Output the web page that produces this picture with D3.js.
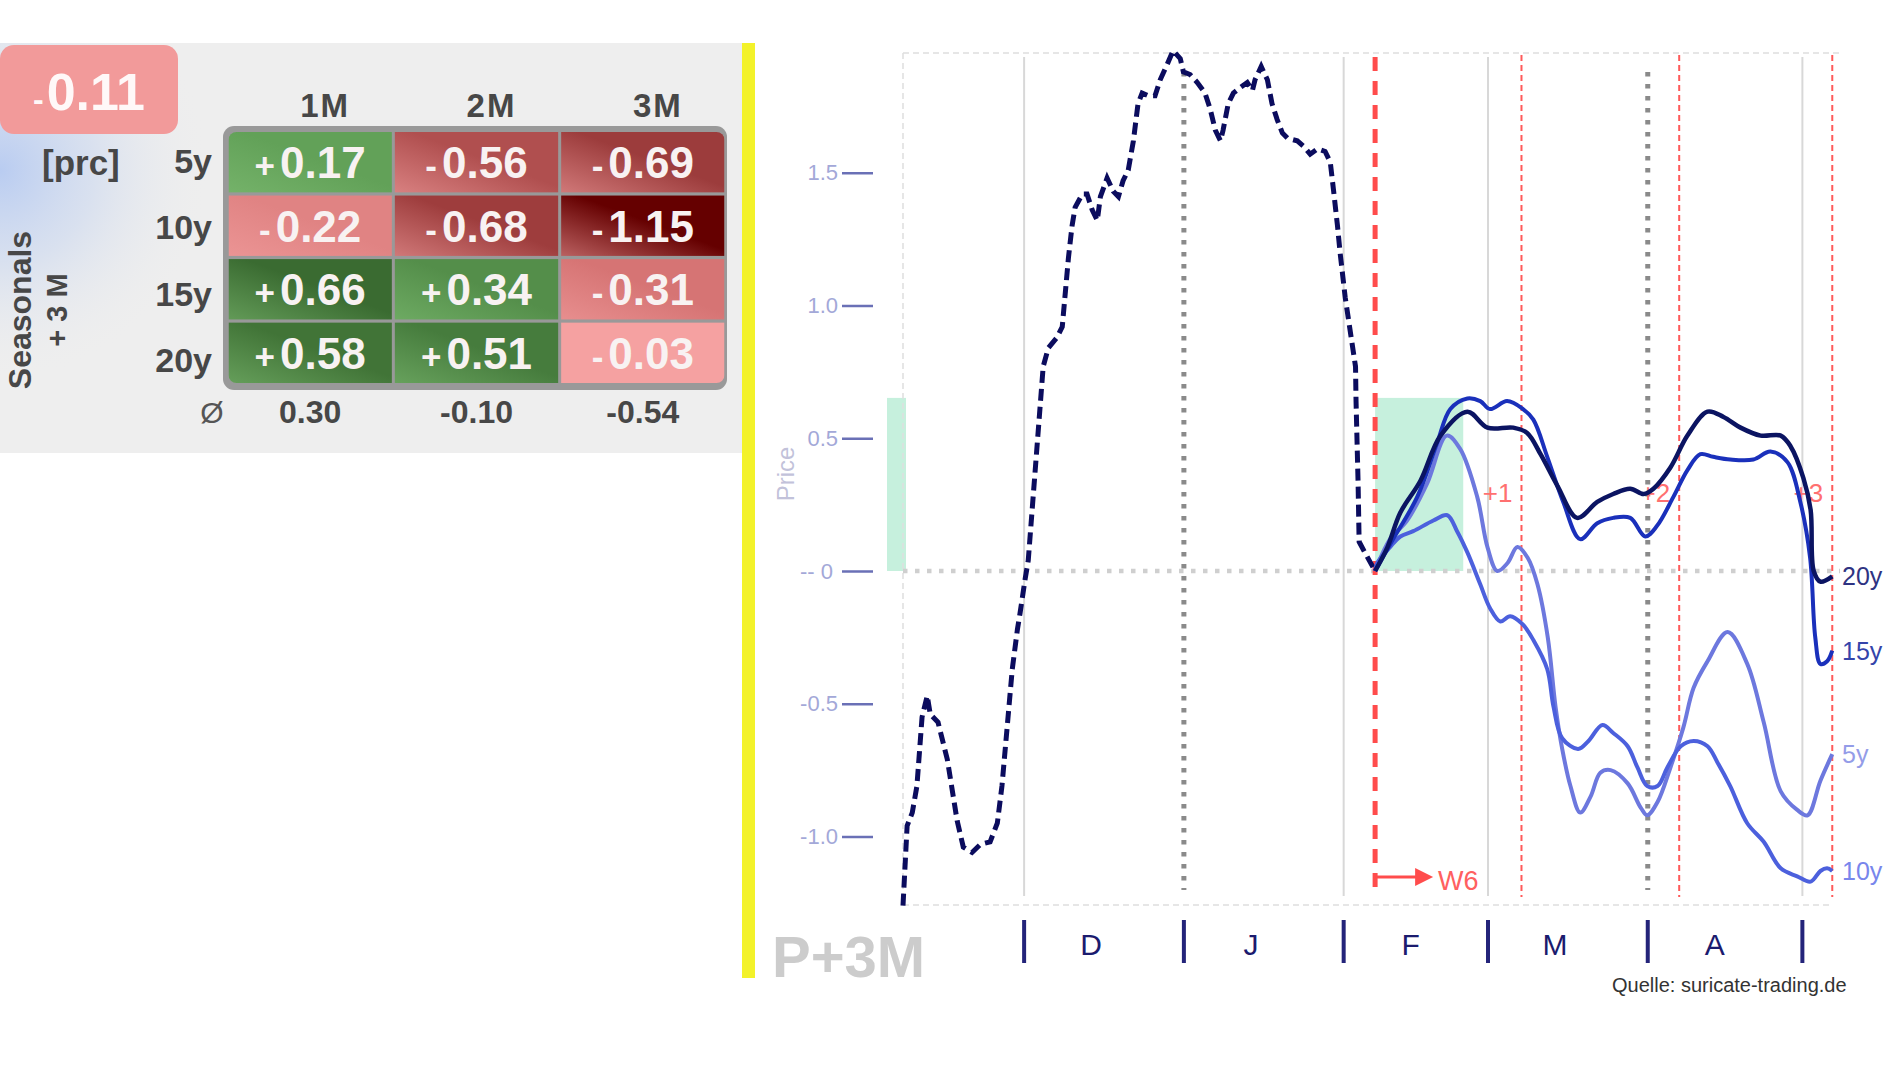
<!DOCTYPE html>
<html><head><meta charset="utf-8">
<script src="https://cdn.jsdelivr.net/npm/d3@7"></script>
<style>
html,body{margin:0;padding:0;background:#fff;overflow:hidden;}
svg{display:block;font-family:"Liberation Sans",Arial,sans-serif;}
</style>
</head><body>
<svg id="c" width="1898" height="1067"></svg>
<script>
// ---------------- DATA ----------------
const periods = ["1M", "2M", "3M"];
const horizons = ["5y", "10y", "15y", "20y"];
const seasonalValues = [
  [0.17, -0.56, -0.69],
  [-0.22, -0.68, -1.15],
  [0.66, 0.34, -0.31],
  [0.58, 0.51, -0.03]
];
const averageValues = [0.30, -0.10, -0.54];
const overallValue = -0.11;

// x values are days counted from 1 Nov
const monthStarts = [30, 61, 92, 120, 151, 181];
const monthLabels = ["D", "J", "F", "M", "A"];
const solidGridDays = [30, 92, 120, 181];
const dottedGridDays = [61, 151];
const entryDay = 98.1;
const exitDays = [126.5, 157.1, 186.8];
const exitLabels = ["+1", "+2", "+3"];
const yTicks = [-1.0, -0.5, 0, 0.5, 1.0, 1.5];
const greenBoxEndDay = 115.2;
const greenBoxTop = 0.652;

const histDays = [6.5,7.3,8.3,9.2,10.2,11.2,11.8,13.3,15.1,17.0,18.2,19.9,21.5,23.4,24.8,25.7,26.7,27.7,28.7,29.2,30.2,30.8,33.7,34.7,36.4,37.4,38.0,38.6,39.3,39.9,41.3,42.2,43.2,44.2,44.8,46.1,47.3,48.3,49.2,50.2,51.2,52.1,52.9,54.1,55.4,56.4,57.8,58.9,60.3,60.9,62.2,63.6,65.1,66.1,67.1,68.1,68.6,69.6,70.6,71.9,73.3,74.3,74.8,76.0,77.2,78.1,79.1,80.1,81.1,83.0,84.2,85.5,86.9,88.4,89.4,90.0,90.8,91.3,92.3,93.3,94.3,94.4,94.8,95.0,96.1,98.1];
const histValues = [-1.26,-0.96,-0.91,-0.81,-0.55,-0.47,-0.54,-0.57,-0.71,-0.94,-1.04,-1.06,-1.03,-1.02,-0.95,-0.81,-0.59,-0.37,-0.22,-0.16,-0.03,0.04,0.77,0.84,0.88,0.92,1.05,1.18,1.30,1.37,1.42,1.42,1.36,1.32,1.41,1.48,1.43,1.41,1.47,1.51,1.62,1.76,1.80,1.79,1.79,1.85,1.91,1.96,1.93,1.88,1.87,1.84,1.80,1.74,1.66,1.62,1.66,1.76,1.80,1.82,1.84,1.81,1.85,1.90,1.85,1.76,1.70,1.65,1.63,1.62,1.60,1.57,1.59,1.58,1.54,1.44,1.30,1.20,1.03,0.90,0.77,0.64,0.33,0.11,0.07,0.00];

const days20y = [98.1,100.5,103.0,106.9,110.8,116.0,119.9,124.9,127.6,130.2,133.5,137.3,141.2,144.3,147.6,150.2,152.1,155.4,158.7,162.6,165.7,169.0,172.9,176.8,178.7,181.2,182.6,183.2,184.5,186.8];
const values20y = [0,0.09,0.22,0.34,0.51,0.60,0.54,0.54,0.52,0.44,0.32,0.20,0.26,0.29,0.31,0.29,0.31,0.39,0.51,0.60,0.58,0.54,0.51,0.51,0.47,0.35,0.23,0.00,-0.04,-0.02];

const days15y = [98.1,101.6,106.3,110.1,112.7,116.0,118.5,120.4,123.7,126.8,128.8,131.5,134.6,137.9,141.2,144.3,147.6,150.5,152.8,156.0,158.7,161.2,163.7,167.0,171.5,174.8,178.1,180.6,182.5,183.5,184.5,185.8,186.8];
const values15y = [0,0.12,0.28,0.48,0.61,0.65,0.64,0.61,0.64,0.61,0.57,0.43,0.26,0.12,0.18,0.20,0.20,0.13,0.17,0.28,0.38,0.44,0.43,0.42,0.42,0.45,0.41,0.26,0.05,-0.25,-0.35,-0.34,-0.30];

const days5y = [98.1,101.0,104.3,108.2,112.0,114.6,117.9,119.9,121.8,123.8,125.7,127.7,129.6,131.6,133.1,134.4,136.0,137.9,139.9,141.8,143.8,147.1,149.6,150.9,152.9,155.4,157.9,159.9,162.6,166.5,170.3,173.5,176.8,180.0,182.0,184.5,186.8];
const values5y = [0,0.12,0.19,0.33,0.51,0.46,0.28,0.09,0.00,0.03,0.09,0.05,-0.05,-0.25,-0.51,-0.67,-0.81,-0.91,-0.85,-0.76,-0.75,-0.80,-0.89,-0.92,-0.87,-0.74,-0.59,-0.44,-0.34,-0.23,-0.35,-0.57,-0.83,-0.90,-0.92,-0.79,-0.69];

const days10y = [98.1,98.5,101.0,103.0,105.5,109.4,112.1,114.0,116.0,118.5,120.4,122.4,124.3,126.7,128.8,131.5,132.7,134.4,137.5,139.5,142.2,144.3,147.1,149.0,150.9,152.9,154.8,157.4,159.9,162.6,164.5,167.0,170.3,173.5,176.8,180.0,182.6,184.5,185.8,186.8];
const values10y = [0,0.03,0.09,0.13,0.15,0.19,0.21,0.15,0.07,-0.05,-0.14,-0.19,-0.17,-0.20,-0.26,-0.37,-0.51,-0.63,-0.67,-0.64,-0.58,-0.61,-0.66,-0.74,-0.81,-0.81,-0.74,-0.66,-0.64,-0.66,-0.72,-0.81,-0.95,-1.02,-1.12,-1.15,-1.17,-1.13,-1.12,-1.13];

// ---------------- DRAW ----------------
const svg = d3.select("#c");
const defs = svg.append("defs");
const FONT = "'Liberation Sans', Arial, sans-serif";

// ===== left table panel =====
svg.append("rect").attr("x", 0).attr("y", 43).attr("width", 742).attr("height", 410).attr("fill", "#eeeeee");
const glow = defs.append("radialGradient").attr("id", "glow").attr("gradientUnits", "userSpaceOnUse")
  .attr("cx", 0).attr("cy", 170).attr("r", 210);
glow.append("stop").attr("offset", 0).attr("stop-color", "#b9ccf1").attr("stop-opacity", 1);
glow.append("stop").attr("offset", 0.45).attr("stop-color", "#c8d6f0").attr("stop-opacity", 0.55);
glow.append("stop").attr("offset", 1).attr("stop-color", "#eeeeee").attr("stop-opacity", 0);
svg.append("rect").attr("x", 0).attr("y", 43).attr("width", 230).attr("height", 360).attr("fill", "url(#glow)");

// badge
const badgeColor = overallValue < 0 ? "#f29a9a" : "#7ab56e";
svg.append("rect").attr("x", 0).attr("y", 45).attr("width", 178).attr("height", 89).attr("rx", 14)
  .attr("fill", badgeColor);
const badgeText = svg.append("text").attr("x", 89).attr("y", 110).attr("text-anchor", "middle")
  .attr("fill", "#fff8f8").attr("font-weight", "bold").attr("font-family", FONT);
badgeText.append("tspan").attr("font-size", 32).text(overallValue < 0 ? "-" : "+");
badgeText.append("tspan").attr("font-size", 52).attr("dx", 3).text(Math.abs(overallValue).toFixed(2));

// grid scales
const colX = d3.scaleBand().domain(periods).range([228.5, 724.5]).paddingInner(0.018);
const rowY = d3.scaleBand().domain(horizons).range([132, 383]).paddingInner(0.05);
const labelBase = d3.scaleLinear().domain([0, horizons.length - 1]).range([173, 372]);

// color scales
const negColor = d3.scaleLinear().domain([-1.15, -0.69, -0.31, 0]).range(["#650000", "#9c3c3c", "#d67474", "#f8a6a6"]);
const posColor = d3.scaleLinear().domain([0, 0.17, 0.66]).range(["#72b268", "#62a158", "#3a6b31"]);
const cellColor = v => v < 0 ? negColor(v) : posColor(v);
const lightColor = v => v < 0 ? d3.interpolateRgb(negColor(v), "#f2a0a0")(0.6) : d3.interpolateRgb(posColor(v), "#82c076")(0.55);

svg.append("rect").attr("x", 223).attr("y", 126).attr("width", 504).attr("height", 264).attr("rx", 11)
  .attr("fill", "#999999");
defs.append("clipPath").attr("id", "gridClip").append("rect")
  .attr("x", 228.5).attr("y", 132).attr("width", 496).attr("height", 251).attr("rx", 8);

const cells = [];
seasonalValues.forEach((row, i) => row.forEach((v, j) => cells.push({ h: horizons[i], p: periods[j], v, i, j })));
cells.forEach(c => {
  const g = defs.append("linearGradient").attr("id", `cg${c.i}${c.j}`)
    .attr("x1", 0).attr("y1", 1).attr("x2", 1).attr("y2", 0);
  g.append("stop").attr("offset", 0).attr("stop-color", lightColor(c.v));
  g.append("stop").attr("offset", 0.55).attr("stop-color", cellColor(c.v));
  g.append("stop").attr("offset", 1).attr("stop-color", cellColor(c.v));
});
const gGrid = svg.append("g").attr("clip-path", "url(#gridClip)");
gGrid.selectAll("rect.cell").data(cells).join("rect").attr("class", "cell")
  .attr("x", d => colX(d.p)).attr("y", d => rowY(d.h))
  .attr("width", colX.bandwidth()).attr("height", rowY.bandwidth())
  .attr("fill", d => Math.abs(d.v) < 0.1 ? cellColor(d.v) : `url(#cg${d.i}${d.j})`);
const cellText = svg.selectAll("text.cv").data(cells).join("text").attr("class", "cv")
  .attr("x", d => colX(d.p) + colX.bandwidth() / 2)
  .attr("y", d => rowY(d.h) + rowY.bandwidth() / 2 + 16)
  .attr("text-anchor", "middle").attr("font-weight", "bold").attr("font-family", FONT)
  .attr("fill", "#f8f2f2");
cellText.append("tspan").attr("font-size", 35).text(d => d.v < 0 ? "-" : "+");
cellText.append("tspan").attr("font-size", 44).attr("dx", 5).text(d => Math.abs(d.v).toFixed(2));

// headers
svg.selectAll("text.ph").data(periods).join("text").attr("class", "ph")
  .attr("x", d => colX(d) + colX.bandwidth() / 2 + 15).attr("y", 117)
  .attr("text-anchor", "middle").attr("font-size", 33).attr("font-weight", "bold")
  .attr("letter-spacing", 2).attr("fill", "#474747").attr("font-family", FONT).text(d => d);

// row labels
svg.selectAll("text.rl").data(horizons).join("text").attr("class", "rl")
  .attr("x", 212).attr("y", (d, i) => labelBase(i))
  .attr("text-anchor", "end").attr("font-size", 34).attr("font-weight", "bold")
  .attr("fill", "#474747").attr("font-family", FONT).text(d => d);

svg.append("text").attr("x", 42).attr("y", 175).attr("font-size", 35).attr("font-weight", "bold")
  .attr("fill", "#474747").attr("font-family", FONT).text("[prc]");

svg.append("text").attr("transform", "translate(31,310) rotate(-90)").attr("text-anchor", "middle")
  .attr("font-size", 32).attr("font-weight", "bold").attr("fill", "#474747").attr("font-family", FONT).text("Seasonals");
svg.append("text").attr("transform", "translate(67,310) rotate(-90)").attr("text-anchor", "middle")
  .attr("font-size", 29).attr("font-weight", "bold").attr("fill", "#474747").attr("font-family", FONT).text("+ 3 M");

// averages
svg.append("text").attr("x", 212).attr("y", 423).attr("text-anchor", "middle").attr("font-size", 30)
  .attr("fill", "#555").attr("font-family", FONT).text("Ø");
svg.selectAll("text.av").data(averageValues).join("text").attr("class", "av")
  .attr("x", (d, i) => colX(periods[i]) + colX.bandwidth() / 2).attr("y", 423)
  .attr("text-anchor", "middle").attr("font-size", 32).attr("font-weight", "bold")
  .attr("fill", "#474747").attr("font-family", FONT).text(d => d.toFixed(2));

// yellow bar
svg.append("rect").attr("x", 742).attr("y", 43).attr("width", 13).attr("height", 935).attr("fill", "#f3f22a");

// ===== chart =====
const x = d3.scaleLinear().domain([6.5, 188.3]).range([903, 1840]);
const y = d3.scaleLinear().domain([-1.258, 1.951]).range([905, 53]);
const plotTop = y.range()[1], plotBottom = y.range()[0];

// green boxes
svg.append("rect").attr("x", x(entryDay)).attr("y", y(greenBoxTop))
  .attr("width", x(greenBoxEndDay) - x(entryDay)).attr("height", y(0) - y(greenBoxTop)).attr("fill", "#c6f0dd");
svg.append("rect").attr("x", 887).attr("y", y(greenBoxTop)).attr("width", 19)
  .attr("height", y(0) - y(greenBoxTop)).attr("fill", "#c6f0dd");

// plot border (dashed light)
const border = svg.append("g").attr("stroke", "#dedede").attr("stroke-width", 1.5).attr("stroke-dasharray", "6 4").attr("fill", "none");
border.append("line").attr("x1", 903).attr("x2", 1843).attr("y1", plotTop).attr("y2", plotTop);
border.append("line").attr("x1", 903).attr("x2", 903).attr("y1", plotTop).attr("y2", plotBottom);
border.append("line").attr("x1", 903).attr("x2", 1832).attr("y1", plotBottom).attr("y2", plotBottom);

// solid month grid
svg.selectAll("line.sg").data(solidGridDays).join("line").attr("class", "sg")
  .attr("x1", d => x(d)).attr("x2", d => x(d)).attr("y1", plotTop + 4).attr("y2", 896)
  .attr("stroke", "#d8d8d8").attr("stroke-width", 2);
// dotted quarter grid
svg.selectAll("line.dg").data(dottedGridDays).join("line").attr("class", "dg")
  .attr("x1", d => x(d)).attr("x2", d => x(d)).attr("y1", 72).attr("y2", 890)
  .attr("stroke", "#8a8a8a").attr("stroke-width", 5).attr("stroke-dasharray", "4.5 7.5");
// zero line
svg.append("line").attr("x1", 903).attr("x2", 1840).attr("y1", y(0)).attr("y2", y(0))
  .attr("stroke", "#cfcfcf").attr("stroke-width", 4.5).attr("stroke-dasharray", "4.5 7.5");

// red lines
svg.append("line").attr("x1", x(entryDay)).attr("x2", x(entryDay)).attr("y1", 57).attr("y2", 892)
  .attr("stroke", "#ff4c4c").attr("stroke-width", 5).attr("stroke-dasharray", "14 10");
svg.selectAll("line.ex").data(exitDays).join("line").attr("class", "ex")
  .attr("x1", d => x(d)).attr("x2", d => x(d)).attr("y1", 55).attr("y2", 897)
  .attr("stroke", "#ff5a5a").attr("stroke-width", 2).attr("stroke-dasharray", "6 4");
svg.selectAll("text.exl").data(exitLabels).join("text").attr("class", "exl")
  .attr("x", (d, i) => x(exitDays[i]) - 9).attr("y", 502).attr("text-anchor", "end")
  .attr("font-size", 26).attr("fill", "#ff7070").attr("font-family", FONT).text(d => d);

// W6 arrow
const ax = x(entryDay);
svg.append("line").attr("x1", ax).attr("x2", ax + 46).attr("y1", 877).attr("y2", 877)
  .attr("stroke", "#ff4c4c").attr("stroke-width", 3);
svg.append("path").attr("d", `M${ax + 40},868 L${ax + 58},877 L${ax + 40},886 Z`).attr("fill", "#ff4c4c");
svg.append("text").attr("x", ax + 63).attr("y", 890).attr("font-size", 27).attr("fill", "#ff6060")
  .attr("font-family", FONT).text("W6");

// y axis
const yAxis = d3.axisLeft(y).tickValues(yTicks).tickSize(31).tickPadding(4)
  .tickFormat(d => d === 0 ? "-- 0" : d.toFixed(1));
const gy = svg.append("g").attr("transform", "translate(873,0)").call(yAxis);
gy.select(".domain").remove();
gy.selectAll(".tick line").attr("stroke", "#6a70b6").attr("stroke-width", 2.5);
gy.selectAll(".tick text").attr("fill", "#a3a8d8").attr("font-size", 22).attr("font-family", FONT)
  .attr("dx", d => d === 0 ? -5 : 0);

svg.append("text").attr("transform", "translate(794,474) rotate(-90)").attr("text-anchor", "middle")
  .attr("font-size", 24).attr("fill", "#c2c2da").attr("font-family", FONT).text("Price");

// lines
const zip = (ds, vs) => ds.map((d, i) => [d, vs[i]]);
const lineHist = d3.line().x(d => x(d[0])).y(d => y(d[1])).curve(d3.curveLinear);
const lineSmooth = d3.line().x(d => x(d[0])).y(d => y(d[1])).curve(d3.curveCatmullRom.alpha(0.5));

svg.append("path").attr("d", lineHist(zip(histDays, histValues))).attr("fill", "none")
  .attr("stroke", "#0b0c5e").attr("stroke-width", 5).attr("stroke-dasharray", "12 6");

const series = [
  { name: "5y", days: days5y, values: values5y, color: "#6d78de", label: "#949ce8", w: 4 },
  { name: "10y", days: days10y, values: values10y, color: "#4c60dd", label: "#7886ec", w: 4 },
  { name: "15y", days: days15y, values: values15y, color: "#1a30bb", label: "#3444aa", w: 4 },
  { name: "20y", days: days20y, values: values20y, color: "#0b1462", label: "#2e3382", w: 4.5 }
];
svg.selectAll("path.fc").data(series).join("path").attr("class", "fc")
  .attr("d", s => lineSmooth(zip(s.days, s.values))).attr("fill", "none")
  .attr("stroke", s => s.color).attr("stroke-width", s => s.w).attr("stroke-linejoin", "round");
svg.selectAll("text.sl").data(series).join("text").attr("class", "sl")
  .attr("x", 1842).attr("y", s => y(s.values[s.values.length - 1]) + 9)
  .attr("font-size", 25).attr("fill", s => s.label).attr("font-family", FONT).text(s => s.name);

// month bars and labels
svg.selectAll("line.mb").data(monthStarts).join("line").attr("class", "mb")
  .attr("x1", d => x(d)).attr("x2", d => x(d)).attr("y1", 920).attr("y2", 963)
  .attr("stroke", "#24247a").attr("stroke-width", 4);
svg.selectAll("text.ml").data(monthLabels).join("text").attr("class", "ml")
  .attr("x", (d, i) => x(monthStarts[i] + 13)).attr("y", 955).attr("text-anchor", "middle")
  .attr("font-size", 30).attr("fill", "#1b1b6e").attr("font-family", FONT).text(d => d);

svg.append("text").attr("x", 772).attr("y", 977).attr("font-size", 58).attr("font-weight", "bold")
  .attr("fill", "#cccccc").attr("font-family", FONT).text("P+3M");

svg.append("text").attr("x", 1612).attr("y", 992).attr("font-size", 20).attr("fill", "#333")
  .attr("font-family", FONT).text("Quelle: suricate-trading.de");
</script>
</body></html>
